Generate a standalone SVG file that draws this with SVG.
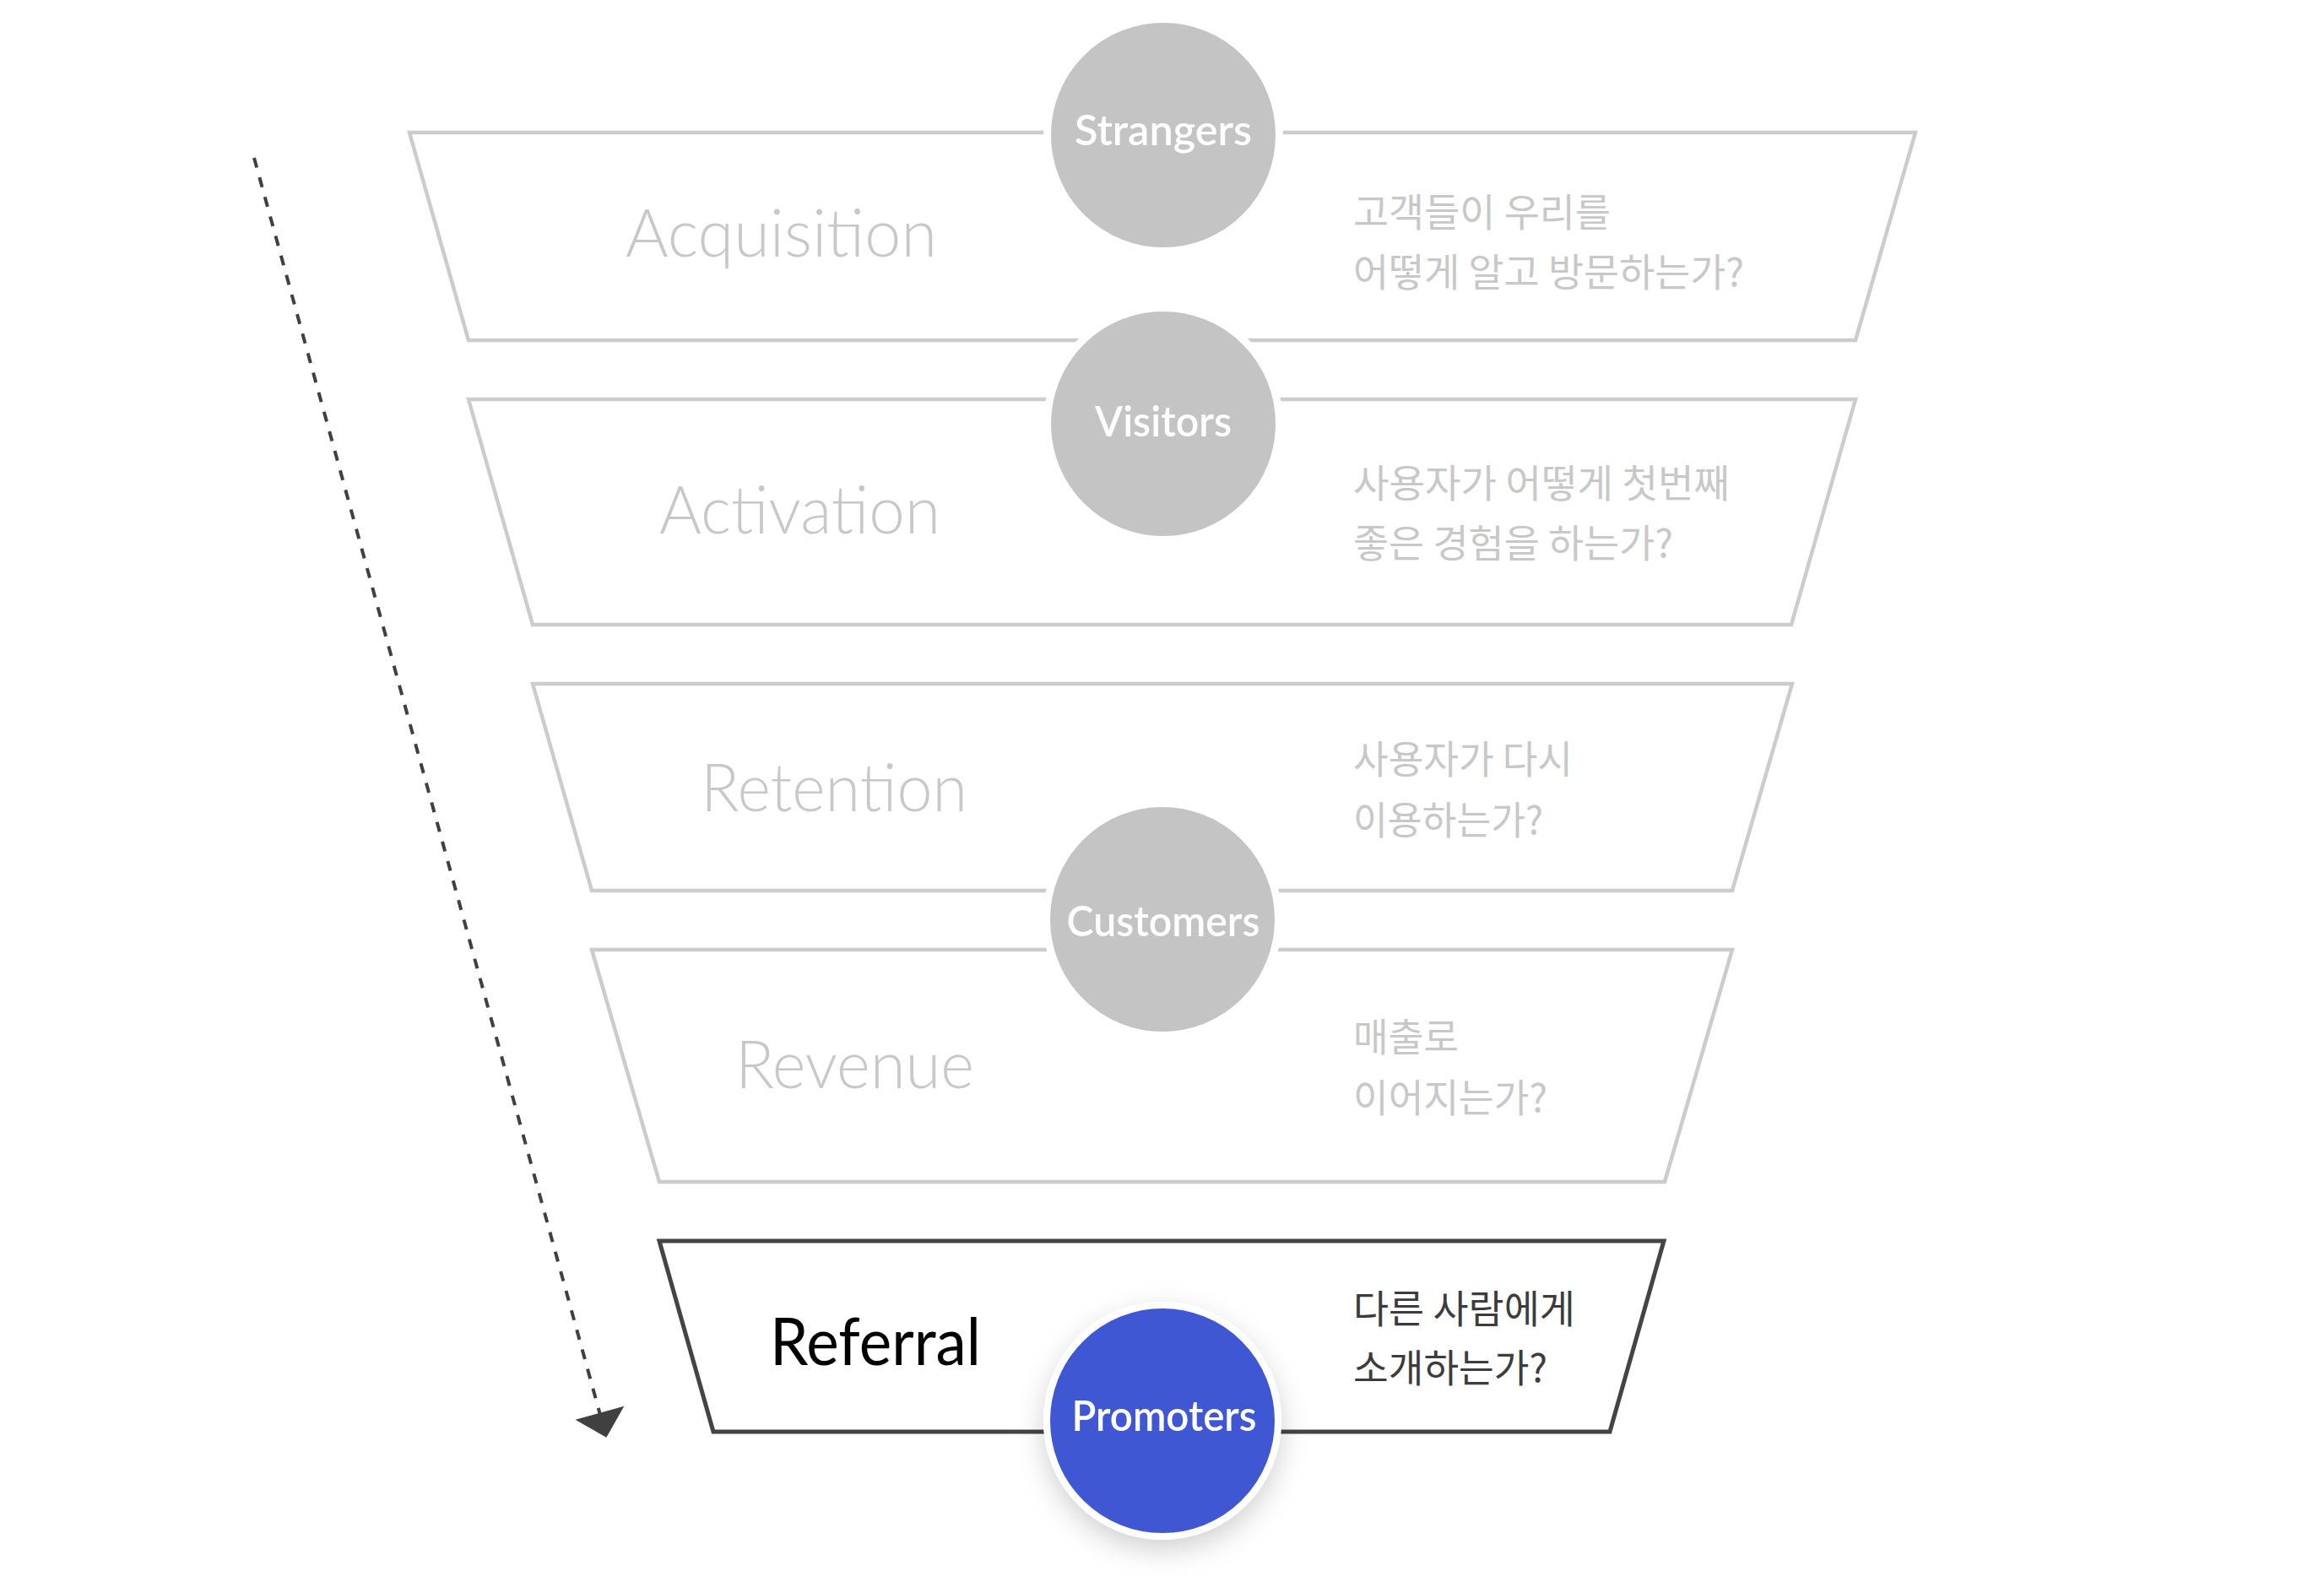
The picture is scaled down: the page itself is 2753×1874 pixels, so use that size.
<svg xmlns="http://www.w3.org/2000/svg" width="2753" height="1874" viewBox="0 0 2753 1874">
<defs>
<style>
.stage{fill:#ffffff;stroke:#cccccc;stroke-width:4.5;stroke-linejoin:miter}
.stage-on{fill:#ffffff;stroke:#444444;stroke-width:5;stroke-linejoin:miter}
.label{font-family:Lato,"Liberation Sans",sans-serif;font-weight:300;font-size:78px;fill:#c8c8c8}
.label-on{font-family:Lato,"Liberation Sans",sans-serif;font-weight:400;font-size:78px;fill:#000000}
.q{font-family:"Noto Sans CJK KR","Noto Sans",sans-serif;font-weight:400;font-size:46px;fill:#c8c8c8}
.q-on{font-family:"Noto Sans CJK KR","Noto Sans",sans-serif;font-weight:400;font-size:46px;fill:#3c3c3c}
.ring{fill:#c4c4c4;stroke:#ffffff;stroke-width:9}
.ring-on{fill:#4057d4;stroke:#ffffff;stroke-width:8}
.ctext{font-family:Lato,"Liberation Sans",sans-serif;font-weight:600;font-size:49px;fill:#ffffff;text-anchor:middle}
.flow{fill:none;stroke:#404040;stroke-width:4;stroke-dasharray:12 12}
</style>
<marker id="arrow" markerUnits="userSpaceOnUse" markerWidth="60" markerHeight="60" viewBox="0 0 26 52" refX="2" refY="26" orient="auto">
<path d="M0,0 L26,26 L0,52 Z" fill="#404040"/>
</marker>
<filter id="shadow" x="-40%" y="-40%" width="180%" height="180%">
<feDropShadow dx="0" dy="12" stdDeviation="16" flood-color="#000000" flood-opacity="0.18"/>
</filter>
</defs>
<rect width="2753" height="1874" fill="#ffffff"/>

<g id="stage-acquisition">
<polygon class="stage" points="485,157 2269,157 2198,403 555,403"/>
<text class="label" x="741" y="304" textLength="369" lengthAdjust="spacingAndGlyphs">Acquisition</text>
<text class="q" x="1603" y="268" textLength="305" lengthAdjust="spacingAndGlyphs">고객들이 우리를</text>
<text class="q" x="1603" y="339" textLength="463" lengthAdjust="spacingAndGlyphs">어떻게 알고 방문하는가?</text>
</g>

<g id="stage-activation">
<polygon class="stage" points="555,473 2198,473 2122,740 631,740"/>
<text class="label" x="781" y="632" textLength="333" lengthAdjust="spacingAndGlyphs">Activation</text>
<text class="q" x="1603" y="589" textLength="446" lengthAdjust="spacingAndGlyphs">사용자가 어떻게 첫번째</text>
<text class="q" x="1603" y="660" textLength="379" lengthAdjust="spacingAndGlyphs">좋은 경험을 하는가?</text>
</g>

<g id="stage-retention">
<polygon class="stage" points="631,810 2123,810 2052,1055 701,1055"/>
<text class="label" x="830" y="961" textLength="316" lengthAdjust="spacingAndGlyphs">Retention</text>
<text class="q" x="1603" y="916" textLength="260" lengthAdjust="spacingAndGlyphs">사용자가 다시</text>
<text class="q" x="1603" y="988" textLength="225" lengthAdjust="spacingAndGlyphs">이용하는가?</text>
</g>

<g id="stage-revenue">
<polygon class="stage" points="701,1125 2052,1125 1972,1400 781,1400"/>
<text class="label" x="871" y="1289" textLength="283" lengthAdjust="spacingAndGlyphs">Revenue</text>
<text class="q" x="1603" y="1245" textLength="125" lengthAdjust="spacingAndGlyphs">매출로</text>
<text class="q" x="1603" y="1317" textLength="230" lengthAdjust="spacingAndGlyphs">이어지는가?</text>
</g>

<g id="stage-referral">
<polygon class="stage-on" points="781,1470 1971,1470 1907,1696 845,1696"/>
<text class="label-on" x="912" y="1617" textLength="250" lengthAdjust="spacingAndGlyphs">Referral</text>
<text class="q-on" x="1603" y="1567" textLength="263" lengthAdjust="spacingAndGlyphs">다른 사람에게</text>
<text class="q-on" x="1603" y="1637" textLength="230" lengthAdjust="spacingAndGlyphs">소개하는가?</text>
</g>

<g id="node-strangers">
<circle class="ring" cx="1378" cy="160" r="137.5"/>
<text class="ctext" x="1378" y="172" textLength="210" lengthAdjust="spacingAndGlyphs">Strangers</text>
</g>

<g id="node-visitors">
<circle class="ring" cx="1378" cy="502" r="137.5"/>
<text class="ctext" x="1378" y="517" textLength="162" lengthAdjust="spacingAndGlyphs">Visitors</text>
</g>

<g id="node-customers">
<circle class="ring" cx="1377" cy="1089" r="137.5"/>
<text class="ctext" x="1378" y="1109" textLength="229" lengthAdjust="spacingAndGlyphs">Customers</text>
</g>

<g id="node-promoters">
<circle cx="1377" cy="1683" r="141" fill="#ffffff" filter="url(#shadow)"/>
<circle class="ring-on" cx="1377" cy="1683" r="137"/>
<text class="ctext" x="1379" y="1695" textLength="219" lengthAdjust="spacingAndGlyphs">Promoters</text>
</g>

<g id="connectors">
<line class="flow" x1="301" y1="187" x2="711" y2="1676" marker-end="url(#arrow)"/>
</g>
</svg>
